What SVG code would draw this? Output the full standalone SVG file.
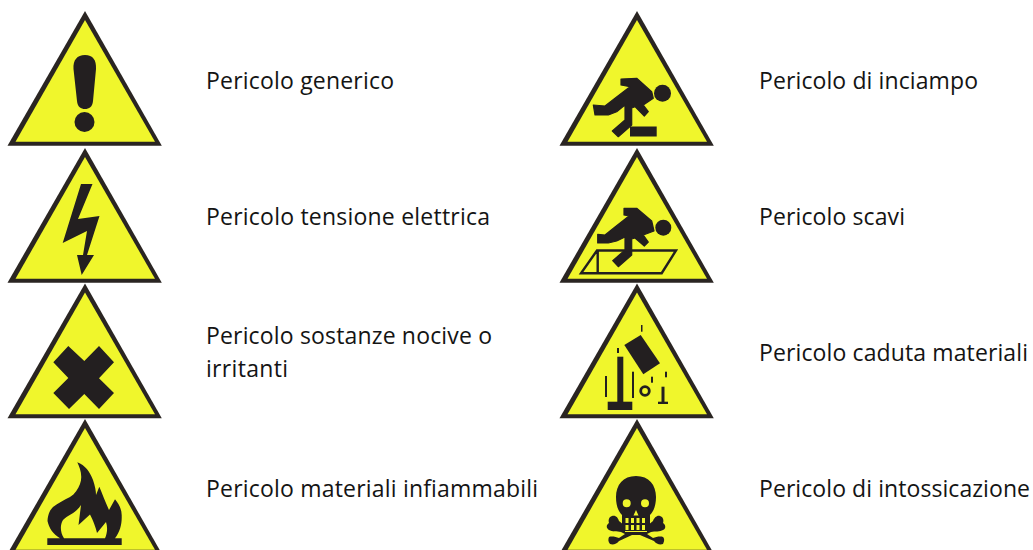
<svg xmlns="http://www.w3.org/2000/svg" width="1033" height="550" viewBox="0 0 1033 550">
<style>
text{font-family:"Open Sans","Liberation Sans",sans-serif;font-size:23px;fill:#141414}
.o{fill:#2a2522}.y{fill:#f0f62c}.k{fill:#231f20}
.f{fill:#231f20;stroke:#231f20;stroke-width:1.200;stroke-linejoin:round}
.l{fill:none;stroke:#231f20}
</style>
<defs>
<g id="tri"><polygon class="o" points="85,11 7.500,145.700 161.800,145.700"/><polygon class="y" points="85,20 15.500,141.700 155,141.700"/></g>
</defs>
<rect width="1033" height="550" fill="#fff"/>
<g id="generico"><use href="#tri"/>
<path class="k" d="M85 55C77 55 73 60 73.500 69L77 101C77.500 107 81 109 85 109C89 109 92.500 107 93 101L96 69C96.500 60 93 55 85 55Z"/><circle class="k" cx="84.500" cy="122" r="10"/>
<text x="206" y="89" textLength="188">Pericolo generico</text></g>
<g id="tensione"><use href="#tri" y="137"/>
<polygon class="k" points="81,184 92.500,184 78,219 99.500,216 87,255 94,255 81.700,275 77,255 83,255 87,231 62.700,243"/>
<text x="206" y="225" textLength="284">Pericolo tensione elettrica</text></g>
<g id="nocive"><use href="#tri" y="272.500"/>
<polygon class="k" points="53.300,362.300 68.300,346 84.300,361 99,346 114,362.300 99,378.300 114,393 99,409 84.300,394 69,409 53.300,393 68.300,378"/>
<text x="206" y="344" textLength="286">Pericolo sostanze nocive o</text><text x="206" y="377" textLength="82">irritanti</text></g>
<g id="infiammabili"><use href="#tri" y="408"/>
<path class="k" d="M77.300 462.300C85 465 90 472 93 480C95 486 96 491 96 495L99.300 486.700C102 493 105 501 109 510L115 499.300C119 504 122 510 121.700 516C122 524 120 532 115 538.300H121.700V545H47.300V538.300H60C53 534 49 528 47.500 521C48 514 50 510 53 507C58 503 64 500 70 497C75 494 78 489 80 484C83 476 80 468 77.300 462.300Z"/>
<path class="y" d="M64 538.300C60 532 60 525 63 520C68 515 76 513 81 505L78.500 525L90 514.500C93 520 96 528 97 533L106 522C108 528 107 534 105 538.300Z"/>
<text x="206" y="497" textLength="332">Pericolo materiali infiammabili</text></g>

<g id="inciampo"><use href="#tri" x="552"/>
<circle class="k" cx="662.500" cy="93.300" r="8.500"/>
<polygon class="f" points="621,79 636.700,78.300 651.700,91.700 653.300,98.300 643.300,105 648.300,111.700 644.300,116 635,106.700 631.700,108 631.700,125 618.300,136.700 612.300,131 625,120 625,105 616.700,111.700 608.300,115 595,115 593.300,105 605,106 615,98.300 630,86.700 621,85"/>
<rect class="k" x="630" y="126.500" width="26.700" height="10"/>
<text x="759" y="89" textLength="219">Pericolo di inciampo</text></g>
<g id="scavi"><use href="#tri" x="552" y="137"/>
<circle class="k" cx="663.300" cy="227.700" r="8"/>
<polygon class="f" points="624,208.300 636.700,208.300 651.700,221 654,231 643.300,235 648.300,242 644.300,246 635,238 631.700,239 631.700,255 618.300,266.700 612.700,260.700 625,250 625,237 616.700,241 608.300,243 597.700,243 597.700,234.300 605,235 615,227 629,216 624,215"/>
<path class="l" stroke-width="2.400" d="M597 250.500H676L661.700 273.200H581ZM597.700 251V273"/>
<text x="759" y="225" textLength="146">Pericolo scavi</text></g>
<g id="caduta"><use href="#tri" x="552" y="272.500"/>
<polygon class="k" points="624.300,345 640.700,335 660,363.300 643.300,374.300"/>
<rect class="k" x="617.300" y="356.700" width="6" height="46"/><rect class="k" x="607.700" y="401.700" width="24.600" height="8.300"/>
<rect class="k" x="641" y="325" width="1.500" height="6.700"/><rect class="k" x="617" y="348" width="2" height="5"/>
<rect class="k" x="605" y="376" width="2" height="21"/><rect class="k" x="632" y="371.700" width="2" height="26.300"/>
<rect class="k" x="651" y="376.700" width="2" height="6"/><rect class="k" x="665" y="371.700" width="2" height="5.600"/>
<rect class="k" x="661.500" y="386.700" width="3" height="15.300"/><rect class="k" x="658" y="401.700" width="10" height="2.300"/>
<circle class="l" cx="645" cy="391" r="4.300" stroke-width="2.800"/>
<text x="759" y="361" textLength="269">Pericolo caduta materiali</text></g>
<g id="intossicazione"><use href="#tri" x="552" y="408"/>
<path class="k" fill-rule="evenodd" d="M636 476C649 476 656 485 656 497C656 505 654 511 650 515V531H622V515C618 511 616 505 616 497C616 485 623 476 636 476ZM626.700 499.300A4 4 0 1 0 626.700 507.300A4 4 0 1 0 626.700 499.300ZM645 499.300A4 4 0 1 0 645 507.300A4 4 0 1 0 645 499.300ZM636 510L633.500 515.500H638.500Z"/>
<path class="k" d="M612 516C616 515 618 518 619 521L625 526V532H647V526L653 521C654 518 657 515 660 516C663 517 664 520 663 523C666 525 666 529 663 530C660 532 655 531 651 532L647 534L653 538C656 537 660 536 663 537C665 539 664 542 663 544C660 545 656 544 654 541L640 535H632L619 541C617 544 613 545 610 544C608 542 608 539 609 537C612 536 616 537 619 538L625 534L621 532C617 531 612 532 609 530C606 528 606 525 609 523C608 520 609 517 612 516Z"/>
<g class="y"><rect x="625.500" y="518" width="3" height="5"/><rect x="631" y="518" width="3" height="5"/><rect x="636.500" y="518" width="3" height="5"/><rect x="642" y="518" width="3" height="5"/><rect x="625.500" y="525" width="3" height="5"/><rect x="631" y="525" width="3" height="5"/><rect x="636.500" y="525" width="3" height="5"/><rect x="642" y="525" width="3" height="5"/></g>
<text x="759" y="497" textLength="271">Pericolo di intossicazione</text></g>
<g id="connectors"/>
</svg>
